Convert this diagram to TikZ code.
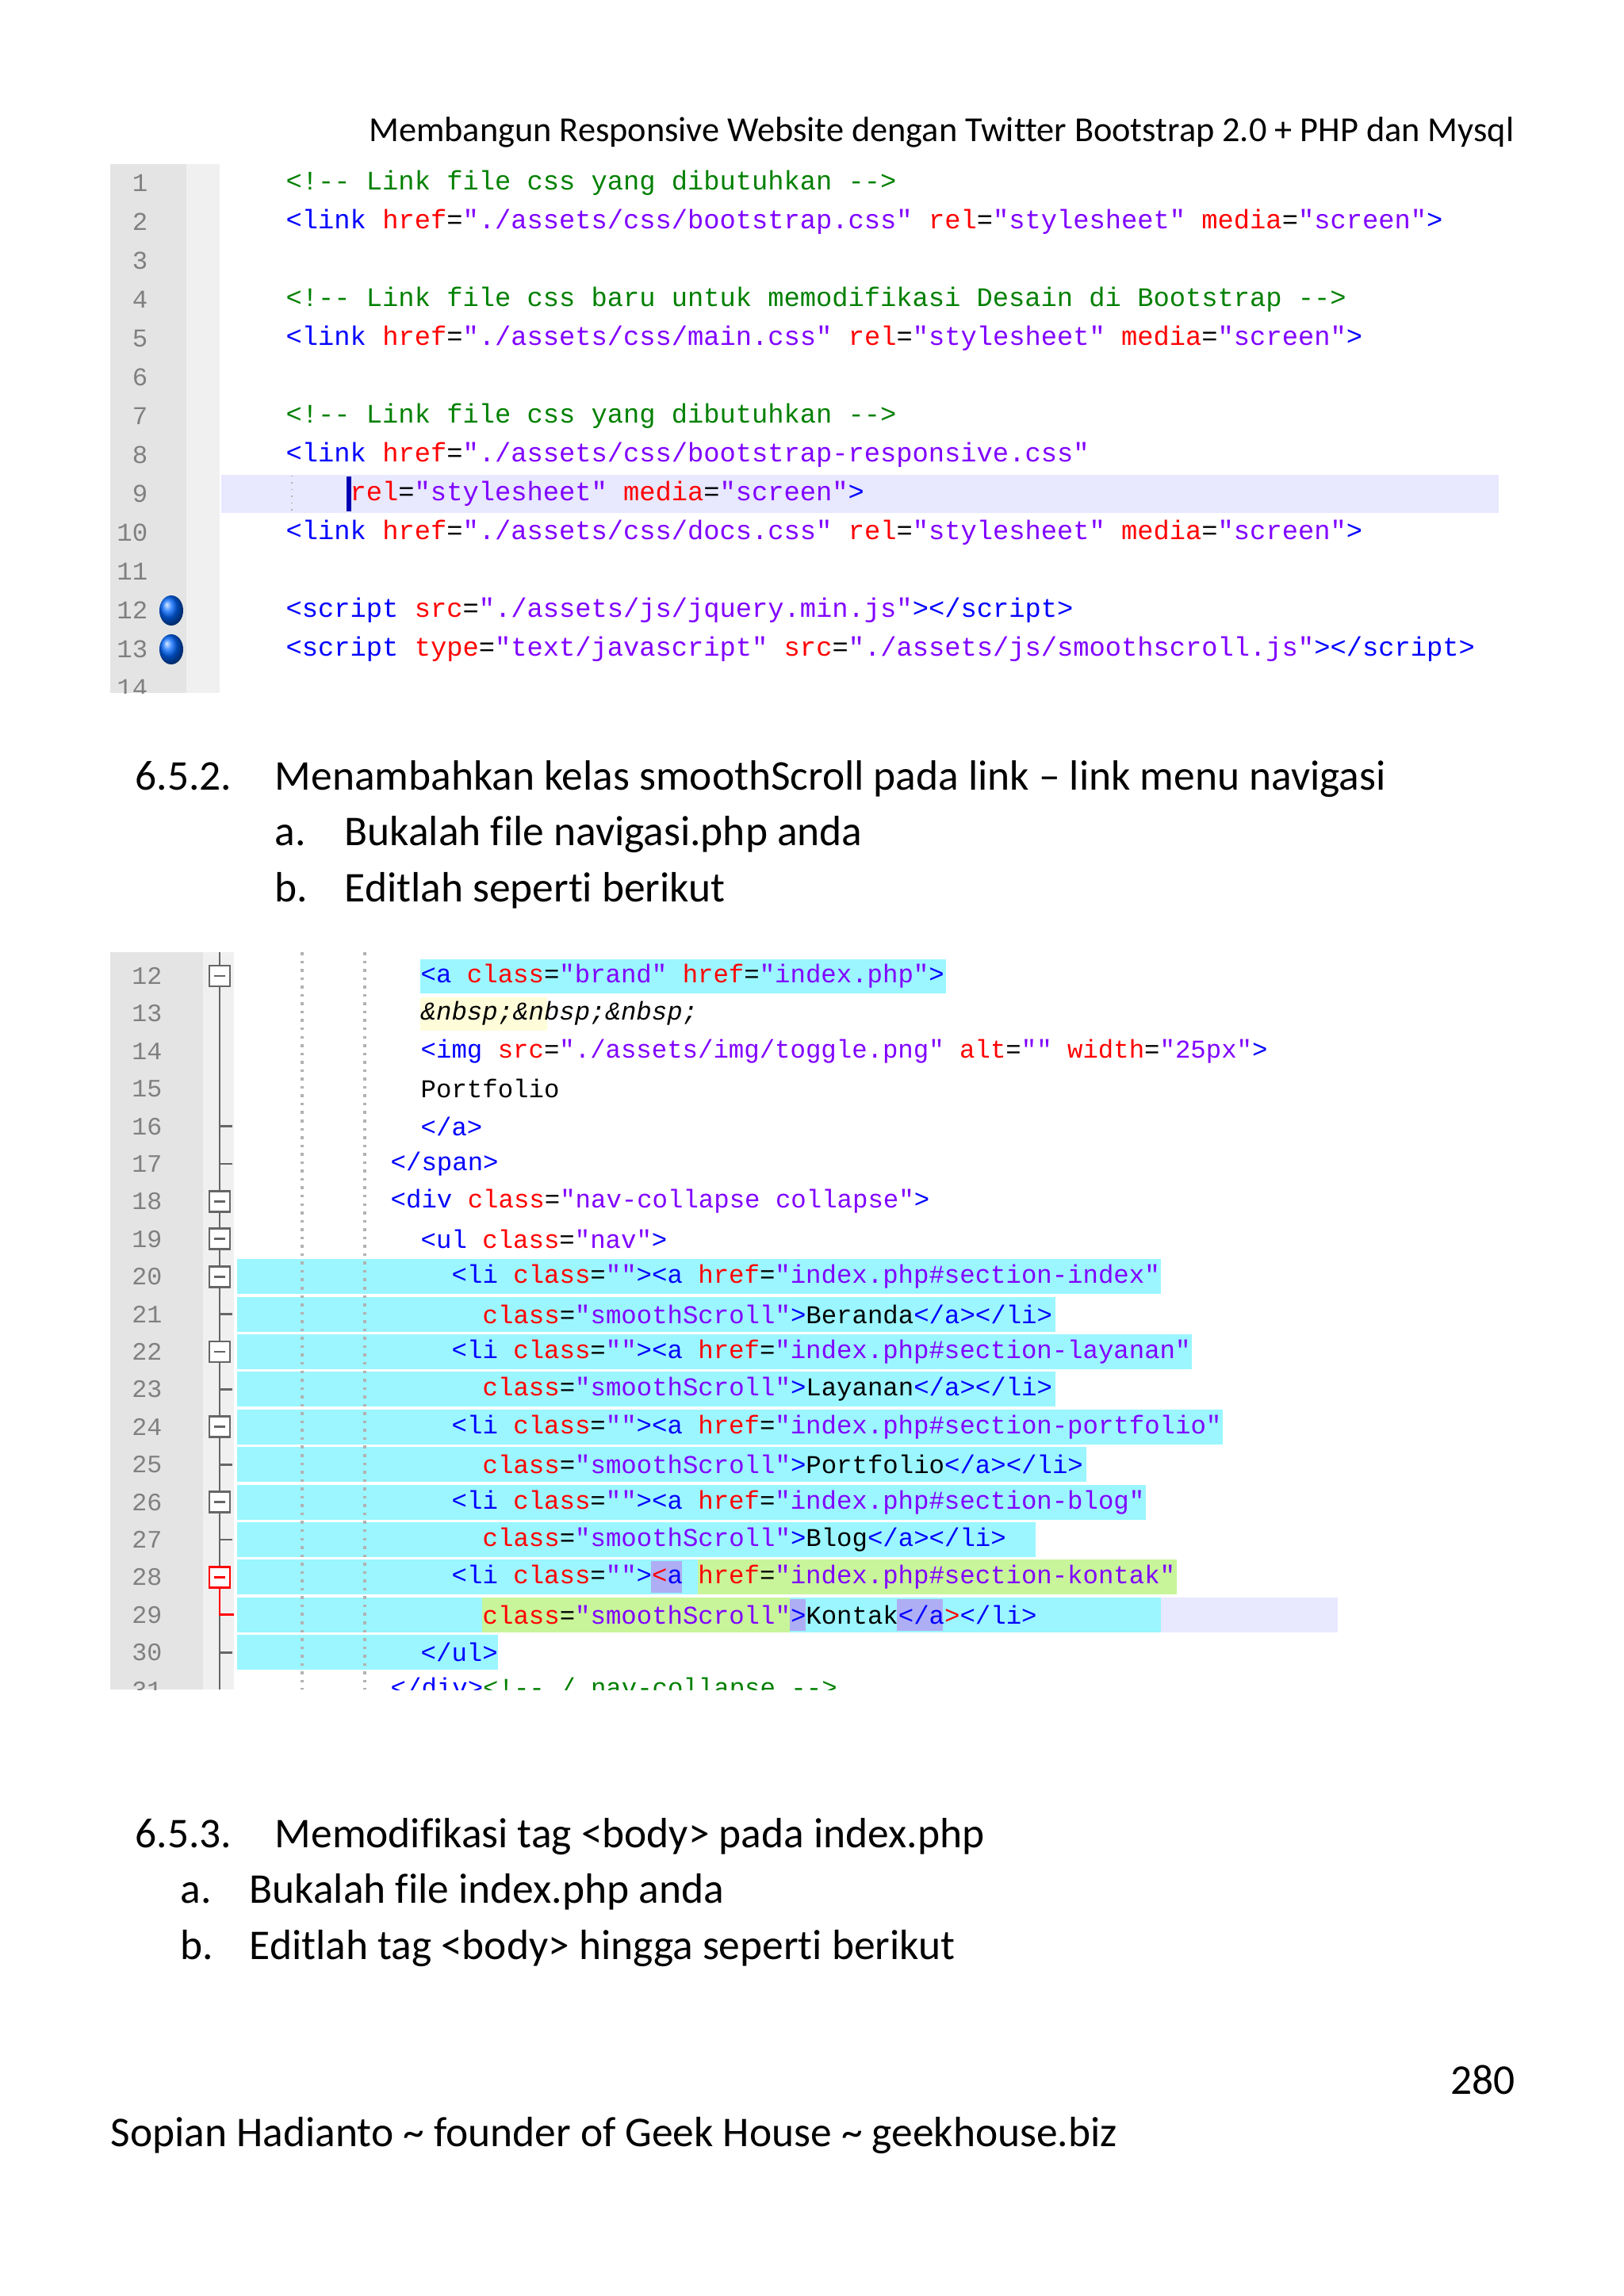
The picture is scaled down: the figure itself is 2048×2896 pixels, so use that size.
\documentclass[tikz,border=0pt]{standalone}
\usepackage{fontspec}
\setmainfont[Ligatures=NoCommon]{Carlito}
\newfontfamily\cmono{Liberation Mono}
\definecolor{tg}{HTML}{0000FF}
\definecolor{at}{HTML}{FF0000}
\definecolor{st}{HTML}{8000FF}
\definecolor{cm}{HTML}{008000}
\definecolor{gut}{HTML}{E4E4E4}
\definecolor{gut2}{HTML}{F0F0F0}
\definecolor{cy}{HTML}{9BF6FF}
\definecolor{lav}{HTML}{E8E8FF}
\definecolor{grn}{HTML}{C8F59A}
\definecolor{blb}{HTML}{8C8CF0}
\newcommand{\Tg}[1]{\textcolor{tg}{#1}}
\newcommand{\At}[1]{\textcolor{at}{#1}}
\newcommand{\St}[1]{\textcolor{st}{#1}}
\newcommand{\Cm}[1]{\textcolor{cm}{#1}}
\tikzset{
 codeA/.style={anchor=west,inner sep=0pt,font=\cmono\fontsize{9.6}{10}\selectfont},
 codeB/.style={anchor=west,inner sep=0pt,font=\cmono\fontsize{9.2}{10}\selectfont},
 numA/.style={anchor=east,inner sep=0pt,text=gray,font=\cmono\fontsize{9.2}{10}\selectfont},
 body/.style={anchor=base west,inner sep=0pt,font=\fontsize{15.2}{17}\selectfont},
 foldbox/.style={draw=gray!80!black,fill=white,line width=0.8pt,minimum size=0.26cm,inner sep=0pt},
}
\begin{document}
\begin{tikzpicture}[x=0.01cm,y=-0.01cm]
\useasboundingbox (0,0) rectangle (2048,2896);
\fill[white] (0,0) rectangle (2048,2896);
% header
\node[anchor=base east,inner sep=0pt,font=\fontsize{12.6}{15}\selectfont] (hdr) at (1910,178) {Membangun Responsive Website dengan Twitter Bootstrap 2.0 + PHP dan Mysql};
% ---------- block 1
\fill[gut] (139,207) rectangle (235,874);
\fill[gut2] (235,207) rectangle (277,874);
\fill[lav] (279,599) rectangle (1890,647);
\draw[gray!60,dotted] (368,600) -- (368,646);
\draw[blue!70!black,line width=1.5pt] (440,601) -- (440,645);
\begin{scope}
\clip (139,207) rectangle (1900,874);
\foreach \n in {1,...,14}{
 \node[numA] (na\n) at (187,{231+49*(\n-1)}) {\n};
}
\end{scope}
\foreach \n in {12,13}{
 \shade[ball color=blue!60!cyan] (216,{231+49*(\n-1)}) ellipse (15 and 19);
}
\node[codeA] (a1) at (360,231) {\Cm{<!-- Link file css yang dibutuhkan -->}};
\node[codeA] (a2) at (360,280) {\Tg{<link} \At{href}=\St{"./assets/css/bootstrap.css"} \At{rel}=\St{"stylesheet"} \At{media}=\St{"screen"}\Tg{>}};
\node[codeA] (a4) at (360,378) {\Cm{<!-- Link file css baru untuk memodifikasi Desain di Bootstrap -->}};
\node[codeA] (a5) at (360,427) {\Tg{<link} \At{href}=\St{"./assets/css/main.css"} \At{rel}=\St{"stylesheet"} \At{media}=\St{"screen"}\Tg{>}};
\node[codeA] (a7) at (360,525) {\Cm{<!-- Link file css yang dibutuhkan -->}};
\node[codeA] (a8) at (360,574) {\Tg{<link} \At{href}=\St{"./assets/css/bootstrap-responsive.css"}};
\node[codeA] (a9) at (441,623) {\At{rel}=\St{"stylesheet"} \At{media}=\St{"screen"}\Tg{>}};
\node[codeA] (a10) at (360,672) {\Tg{<link} \At{href}=\St{"./assets/css/docs.css"} \At{rel}=\St{"stylesheet"} \At{media}=\St{"screen"}\Tg{>}};
\node[codeA] (a12) at (360,770) {\Tg{<script} \At{src}=\St{"./assets/js/jquery.min.js"}\Tg{></script>}};
\node[codeA] (a13) at (360,819) {\Tg{<script} \At{type}=\St{"text/javascript"} \At{src}=\St{"./assets/js/smoothscroll.js"}\Tg{></script>}};
% ---------- text
\node[body] (h2) at (170,996) {6.5.2.};
\node[body] (h2t) at (346,996) {Menambahkan kelas smoothScroll pada link – link menu navigasi};
\node[body] (h2a) at (346,1066) {a.};
\node[body] (h2at) at (434,1066) {Bukalah file navigasi.php anda};
\node[body] (h2b) at (346,1137) {b.};
\node[body] (h2bt) at (434,1137) {Editlah seperti berikut};
% ---------- block 2
\begin{scope}
\clip (139,1201) rectangle (1900,2131);
\fill[gut] (139,1201) rectangle (256,2131);
\fill[gut2] (256,1201) rectangle (295,2131);
% highlights
\fill[cy] (530,1210) rectangle (1193,1253);
\fill[yellow!15] (530,1258) rectangle (690,1300);
\foreach \n/\e in {20/1464,21/1331,22/1503,23/1331,24/1542,25/1370,26/1445,27/1306,28/1484,30/628}{
 \fill[cy] (299,{1231+47.4*(\n-12)-22}) rectangle (\e,{1231+47.4*(\n-12)+22});
}
\fill[lav] (1464,{1231+47.4*17-22}) rectangle (1687,{1231+47.4*17+22});
\fill[cy] (299,{1231+47.4*17-22}) rectangle (1464,{1231+47.4*17+22});
\fill[grn] (880,{1231+47.4*16-22}) rectangle (1484,{1231+47.4*16+22});
\fill[blb!70] (821,{1231+47.4*16-20}) rectangle (860,{1231+47.4*16+20});
\fill[grn] (608,{1231+47.4*17-22}) rectangle (996,{1231+47.4*17+22});
\fill[blb!70] (996,{1231+47.4*17-20}) rectangle (1016,{1231+47.4*17+20});
\fill[blb!70] (1131,{1231+47.4*17-20}) rectangle (1189,{1231+47.4*17+20});
% indent guides
\foreach \x in {381,460}{\draw[gray!60,dotted,line width=1pt] (\x,1201) -- (\x,2131);}
% fold column
\draw[gray!80!black,line width=0.8pt] (277,1201) -- (277,2131);
\draw[red,line width=0.8pt] (277,{1231+47.4*16}) -- (277,{1231+47.4*17}) -- (295,{1231+47.4*17});
\foreach \n in {16,17,21,23,25,27,30}{\draw[gray!80!black,line width=0.8pt] (277,{1231+47.4*(\n-12)}) -- (293,{1231+47.4*(\n-12)});}
\foreach \n in {12,18,19,20,22,24,26}{
 \node[foldbox] (fb\n) at (277,{1231+47.4*(\n-12)}) {};
 \draw[gray!80!black,line width=0.8pt] (270,{1231+47.4*(\n-12)}) -- (284,{1231+47.4*(\n-12)});
}
\node[foldbox,draw=red] (fb28) at (277,{1231+47.4*16}) {};
\draw[red,line width=0.8pt] (270,{1231+47.4*16}) -- (284,{1231+47.4*16});
\foreach \n in {12,...,31}{
 \node[numA,font=\cmono\fontsize{9}{10}\selectfont] (nb\n) at (205,{1231+47.4*(\n-12)}) {\n};
}
\node[codeB] (b12) at (530,1231) {\Tg{<a} \At{class}=\St{"brand"} \At{href}=\St{"index.php"}\Tg{>}};
\node[codeB] (b13) at (530,1278) {\textit{\&nbsp;\&nbsp;\&nbsp;}};
\node[codeB] (b14) at (530,1326) {\Tg{<img} \At{src}=\St{"./assets/img/toggle.png"} \At{alt}=\St{""} \At{width}=\St{"25px"}\Tg{>}};
\node[codeB] (b15) at (530,1373) {Portfolio};
\node[codeB] (b16) at (530,1421) {\Tg{</a>}};
\node[codeB] (b17) at (492,1468) {\Tg{</span>}};
\node[codeB] (b18) at (492,1515) {\Tg{<div} \At{class}=\St{"nav-collapse collapse"}\Tg{>}};
\node[codeB] (b19) at (530,1563) {\Tg{<ul} \At{class}=\St{"nav"}\Tg{>}};
\node[codeB] (b20) at (569,1610) {\Tg{<li} \At{class}=\St{""}\Tg{><a} \At{href}=\St{"index.php\#section-index"}};
\node[codeB] (b21) at (608,1658) {\At{class}=\St{"smoothScroll"}\Tg{>}Beranda\Tg{</a></li>}};
\node[codeB] (b22) at (569,1705) {\Tg{<li} \At{class}=\St{""}\Tg{><a} \At{href}=\St{"index.php\#section-layanan"}};
\node[codeB] (b23) at (608,1752) {\At{class}=\St{"smoothScroll"}\Tg{>}Layanan\Tg{</a></li>}};
\node[codeB] (b24) at (569,1800) {\Tg{<li} \At{class}=\St{""}\Tg{><a} \At{href}=\St{"index.php\#section-portfolio"}};
\node[codeB] (b25) at (608,1847) {\At{class}=\St{"smoothScroll"}\Tg{>}Portfolio\Tg{</a></li>}};
\node[codeB] (b26) at (569,1895) {\Tg{<li} \At{class}=\St{""}\Tg{><a} \At{href}=\St{"index.php\#section-blog"}};
\node[codeB] (b27) at (608,1942) {\At{class}=\St{"smoothScroll"}\Tg{>}Blog\Tg{</a></li>}};
\node[codeB] (b28) at (569,1989) {\Tg{<li} \At{class}=\St{""}\Tg{>}\textcolor{red}{<}\Tg{a} \At{href}=\St{"index.php\#section-kontak"}};
\node[codeB] (b29) at (608,2037) {\At{class}=\St{"smoothScroll"}\Tg{>}Kontak\Tg{</a}\textcolor{red}{>}\Tg{</li>}};
\node[codeB] (b30) at (530,2084) {\Tg{</ul>}};
\node[codeB] (b31) at (492,2131) {\Tg{</div>}\Cm{<!-- /.nav-collapse -->}};
\end{scope}
% ---------- text 2
\node[body] (h3) at (170,2330) {6.5.3.};
\node[body] (h3t) at (346,2330) {Memodifikasi tag <body> pada index.php};
\node[body] (h3a) at (227,2400) {a.};
\node[body] (h3at) at (314,2400) {Bukalah file index.php anda};
\node[body] (h3b) at (227,2471) {b.};
\node[body] (h3bt) at (314,2471) {Editlah tag <body> hingga seperti berikut};
\node[anchor=base east,inner sep=0pt,font=\fontsize{15.2}{17}\selectfont] (pg) at (1911,2641) {280};
\node[body] (ft) at (139,2707) {Sopian Hadianto \textasciitilde{} founder of Geek House \textasciitilde{} geekhouse.biz};
\end{tikzpicture}
\end{document}
